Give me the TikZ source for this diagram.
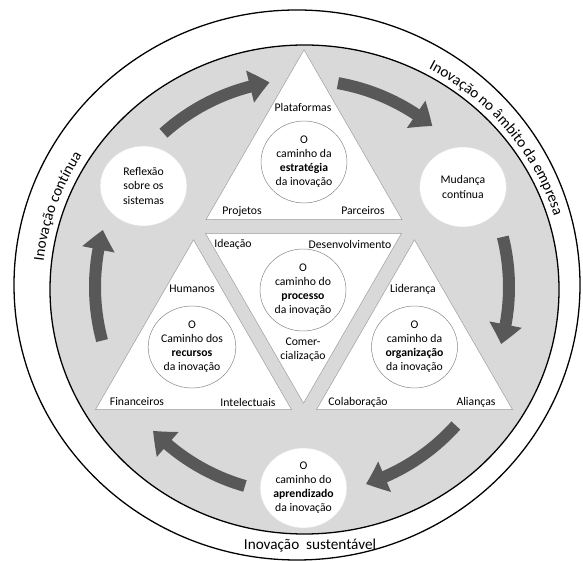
\documentclass[tikz,border=0pt]{standalone}
\usepackage{fontspec}
\setmainfont{Carlito}
\usepackage{tikz}
\usetikzlibrary{shapes.geometric,arrows.meta,bending,decorations.text}
\definecolor{ringgray}{RGB}{217,217,217}
\definecolor{arrowgray}{RGB}{88,88,88}

\begin{document}
\begin{tikzpicture}[x=0.03cm, y=0.03cm,
  every node/.style = {font=\fontsize{10}{12}\selectfont, align=center},
  ring/.style = {draw=black, line width=1.1pt},
  tri/.style = {regular polygon, regular polygon sides=3, minimum size=6.79cm,
    inner sep=0pt, draw=black!40, fill=white},
  core/.style = {ellipse, draw=black!50, fill=white, inner sep=0pt,
    minimum width=2.58cm, minimum height=2.46cm},
  stage/.style = {ellipse, draw=black!12, fill=white, inner sep=0pt,
    minimum width=2.6cm, minimum height=2.4cm},
  flow/.style = {line width=0.36cm, draw=arrowgray,
    -{Triangle[width=0.95cm,length=0.6cm,bend]}},
  ringtext/.style = {font=\fontsize{13}{15}\selectfont}
  ]
  \useasboundingbox (0,0) rectangle (583,561);
  \coordinate (outerc) at (297,276);
  \coordinate (innerc) at (304.5,271.5);
  \coordinate (hub) at (302,274);

  \draw[ring, fill=white] (outerc) ellipse [x radius=283, y radius=275];
  \draw[ring, fill=ringgray] (innerc) ellipse [x radius=254.5, y radius=244.5];

  \foreach \a/\b in {132/99, 80/51, 14/-16, -42/-72, -106/-136, 195/164}
    \draw[flow] ([shift={(\a:207)}]hub) arc[start angle=\a, end angle=\b, radius=207];

  % triangles
  \node[tri] (strat) at (304,398) {};
  \node[tri, shape border rotate=180] (proc) at (303.5,271) {};
  \node[tri] (res) at (193.5,208) {};
  \node[tri] (org) at (414.5,208) {};

  \node[core] (stratc) at (304,399) {O\\caminho da\\\textbf{estratégia}\\da inovação};
  \node[core] (procc) at (303,271) {O\\caminho do\\\textbf{processo}\\da inovação};
  \node[core] (resc) at (192,214) {O\\Caminho dos\\\textbf{recursos}\\da inovação};
  \node[core] (orgc) at (414.5,214) {O\\caminho da\\\textbf{organização}\\da inovação};

  \node (plat) at (303,454) {Plataformas};
  \node (proj) at (242,350) {Projetos};
  \node (parc) at (363,350) {Parceiros};
  \node (idea) at (233,317) {Ideação};
  \node (desen) at (350,317) {Desenvolvimento};
  \node (comer) at (303,211) {Comer-\\cialização};
  \node (hum) at (192,272) {Humanos};
  \node (fin) at (137,159) {Financeiros};
  \node (intel) at (248,159) {Intelectuais};
  \node (lider) at (413,272) {Liderança};
  \node (colab) at (358,159) {Colaboração};
  \node (alian) at (476,159) {Alianças};

  \node[stage] (refl) at (143.5,375) {Reflexão\\sobre os\\sistemas};
  \node[stage] (mud) at (463,374) {Mudança\\contínua};
  \node[stage] (apr) at (303.5,73) {O\\caminho do\\\textbf{aprendizado}\\da inovação};

  \node[ringtext] (sust) at (310,16) {Inovação\ \ sustentável};
  \path[decorate, decoration={text along path, text align=center,
    text={|\fontsize{13}{15}\selectfont|Inovação contínua}}]
    ([shift={(198:262.5 and 252.5)}]innerc) arc[start angle=198, end angle=124,
    x radius=262.5, y radius=252.5];
  \path[decorate, decoration={text along path, text align=center,
    text={|\fontsize{13}{15}\selectfont|Inovação no âmbito da empresa}}]
    ([shift={(78:261 and 251)}]innerc) arc[start angle=78, end angle=0,
    x radius=261, y radius=251];
\end{tikzpicture}
\end{document}
